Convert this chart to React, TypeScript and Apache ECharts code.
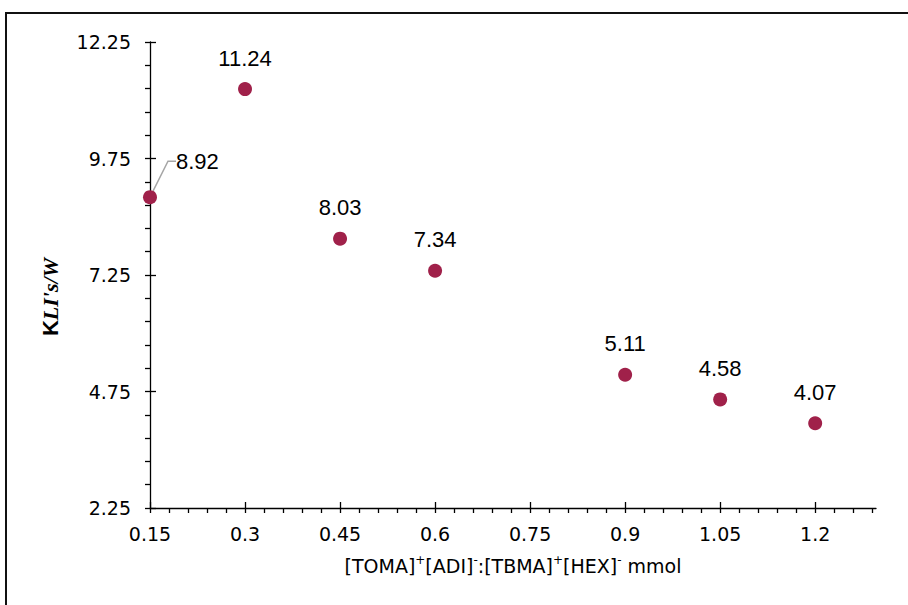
import React, { useEffect, useRef } from "react";
import * as echarts from "echarts";

const xValues = [0.15, 0.3, 0.45, 0.6, 0.9, 1.05, 1.2];
const yValues = [8.92, 11.24, 8.03, 7.34, 5.11, 4.58, 4.07];

const xMajorTicks = [0.15, 0.3, 0.45, 0.6, 0.75, 0.9, 1.05, 1.2];
const xAllTicks = [
  0.15, 0.18, 0.21, 0.24, 0.27, 0.3, 0.33, 0.36, 0.39, 0.42, 0.45, 0.48, 0.51, 0.54, 0.57,
  0.6, 0.63, 0.66, 0.69, 0.72, 0.75, 0.78, 0.81, 0.84, 0.87, 0.9, 0.93, 0.96, 0.99, 1.02,
  1.05, 1.08, 1.11, 1.14, 1.17, 1.2, 1.23, 1.26, 1.29,
];
const yMajorTicks = [2.25, 4.75, 7.25, 9.75, 12.25];
const yAllTicks = [
  2.25, 2.75, 3.25, 3.75, 4.25, 4.75, 5.25, 5.75, 6.25, 6.75, 7.25, 7.75, 8.25, 8.75, 9.25,
  9.75, 10.25, 10.75, 11.25, 11.75, 12.25,
];

const FONT = "'Liberation Sans', Arial, sans-serif";
const AXIS_FONT = "'DejaVu Sans', 'Liberation Sans', sans-serif";

export default function App() {
  const ref = useRef<HTMLDivElement>(null);
  useEffect(() => {
    if (!ref.current) return;
    const chart = echarts.init(ref.current, null, { renderer: "svg" });
    const data = xValues.map((x, i) => [x, yValues[i]]);
    const common = { min: 0.15, max: 1.296 };
    chart.setOption({
      animation: false,
      backgroundColor: "#fff",
      grid: { left: 150, right: 32, top: 42, bottom: 97, containLabel: false },
      xAxis: [
        {
          type: "value",
          ...common,
          position: "bottom",
          splitLine: { show: false },
          axisLine: { show: true, lineStyle: { color: "#000", width: 1.3 } },
          axisTick: {
            show: true,
            inside: false,
            length: 5,
            customValues: xAllTicks,
            lineStyle: { color: "#000", width: 1.3 },
          },
          axisLabel: {
            customValues: xMajorTicks,
            color: "#000",
            fontSize: 19,
            fontFamily: AXIS_FONT,
            margin: 16,
            formatter: (v: number) => String(parseFloat(v.toFixed(2))),
          },
          name: "{n|[TOMA]}{s|+}{n|[ADI]}{s|-}{n|:[TBMA]}{s|+}{n|[HEX]}{s|-}{n| mmol}",
          nameLocation: "middle",
          nameGap: 46,
          nameTextStyle: {
            color: "#000",
            fontFamily: AXIS_FONT,
            fontSize: 19,
            rich: {
              n: { fontSize: 19, fontFamily: AXIS_FONT, color: "#000", lineHeight: 24 },
              s: { fontSize: 12, fontFamily: AXIS_FONT, color: "#000", verticalAlign: "top", lineHeight: 24 },
            },
          },
        },
        {
          type: "value",
          ...common,
          position: "bottom",
          splitLine: { show: false },
          axisLine: { show: false },
          axisLabel: { show: false },
          axisTick: {
            show: true,
            inside: true,
            length: 6,
            customValues: xMajorTicks,
            lineStyle: { color: "#000", width: 1.3 },
          },
        },
      ],
      yAxis: [
        {
          type: "value",
          min: 2.25,
          max: 12.25,
          position: "left",
          splitLine: { show: false },
          axisLine: { show: true, lineStyle: { color: "#000", width: 1.3 } },
          axisTick: {
            show: true,
            inside: false,
            length: 5,
            customValues: yAllTicks,
            lineStyle: { color: "#000", width: 1.3 },
          },
          axisLabel: {
            customValues: yMajorTicks,
            color: "#000",
            fontSize: 19,
            fontFamily: AXIS_FONT,
            margin: 19,
            formatter: (v: number) => v.toFixed(2),
          },
        },
        {
          type: "value",
          min: 2.25,
          max: 12.25,
          position: "left",
          splitLine: { show: false },
          axisLine: { show: false },
          axisLabel: { show: false },
          axisTick: {
            show: true,
            inside: true,
            length: 6,
            customValues: yMajorTicks,
            lineStyle: { color: "#000", width: 1.3 },
          },
        },
      ],
      graphic: [
        {
          type: "rect",
          shape: { x: 6, y: 13, width: 940, height: 640 },
          style: { fill: "none", stroke: "#111", lineWidth: 2 },
          silent: true,
        },
        {
          type: "text",
          x: 50,
          y: 297,
          rotation: Math.PI / 2,
          style: {
            text: "{k|K}{r|LI's/W}",
            align: "center",
            verticalAlign: "middle",
            rich: {
              k: { fontSize: 22, fontWeight: "bold", fontFamily: FONT, fill: "#000" },
              r: {
                fontSize: 22,
                fontWeight: "bold",
                fontStyle: "italic",
                fontFamily: "'Liberation Serif', 'DejaVu Serif', serif",
                fill: "#000",
              },
            },
          },
        },
      ],
      series: [
        {
          type: "scatter",
          xAxisIndex: 0,
          yAxisIndex: 0,
          data: data.map((d, i) =>
            i === 0
              ? { value: d, label: { position: "right" }, labelLine: { show: true } }
              : { value: d }
          ),
          symbol: "circle",
          symbolSize: 14,
          itemStyle: { color: "#A0214A", opacity: 1 },
          label: {
            show: true,
            position: "top",
            distance: 13,
            color: "#000",
            fontSize: 22,
            fontFamily: FONT,
            formatter: (p: any) => p.value[1].toFixed(2),
          },
          labelLine: {
            show: false,
            length2: 8,
            lineStyle: { color: "#A6A6A6", width: 1.5 },
          },
          labelLayout: (params: any) =>
            params.dataIndex === 0 ? { dx: 6, dy: -36 } : {},
        },
      ],
    });
    return () => chart.dispose();
  }, []);
  return (
    <div
      ref={ref}
      style={{ position: "fixed", left: 0, top: 0, width: 908, height: 605 }}
    />
  );
}
